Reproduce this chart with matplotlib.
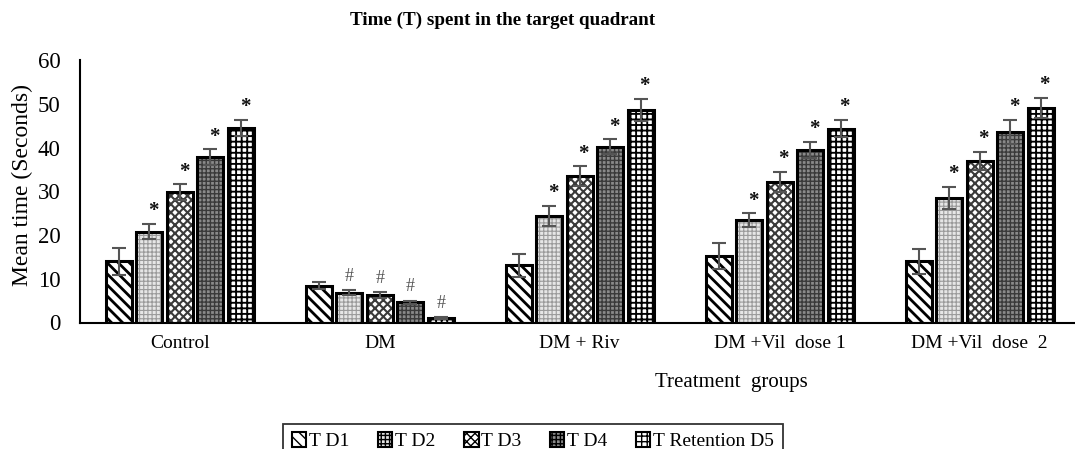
import matplotlib
matplotlib.use("Agg")
import matplotlib.pyplot as plt
import numpy as np
from matplotlib.patches import Patch

plt.rcParams['font.family'] = ['Liberation Serif', 'DejaVu Serif']

groups = ["Control", "DM", "DM + Riv", "DM +Vil  dose 1", "DM +Vil  dose  2"]
series = ["T D1", "T D2", "T D3", "T D4", "T Retention D5"]

d1 = [14.0, 8.4, 13.1, 15.2, 14.0]
d2 = [20.8, 6.8, 24.4, 23.4, 28.5]
d3 = [29.8, 6.3, 33.4, 32.1, 36.9]
d4 = [37.8, 4.6, 40.2, 39.4, 43.5]
d5 = [44.5, 1.1, 48.6, 44.3, 49.1]

e1 = [3.1, 0.8, 2.6, 3.0, 2.9]
e2 = [1.8, 0.6, 2.3, 1.6, 2.5]
e3 = [1.8, 0.6, 2.3, 2.3, 2.1]
e4 = [1.8, 0.4, 1.7, 1.9, 2.8]
e5 = [1.8, 0.2, 2.5, 2.0, 2.3]

marks1 = ["", "", "", "", ""]
marks2 = ["*", "#", "*", "*", "*"]
marks3 = ["*", "#", "*", "*", "*"]
marks4 = ["*", "#", "*", "*", "*"]
marks5 = ["*", "#", "*", "*", "*"]

values = [d1, d2, d3, d4, d5]
errors = [e1, e2, e3, e4, e5]
marks = [marks1, marks2, marks3, marks4, marks5]

# style per series: (facecolor, hatch, hatchcolor, hatch linewidth)
styles = [
    ("white", "\\\\\\", "black", 2.0),
    ("#e6e6e6", "++++", "#9a9a9a", 0.8),
    ("white", "xxxx", "#3a3a3a", 1.5),
    ("#8a8a8a", "++++", "#3a3a3a", 1.0),
    ("white", "+++", "black", 1.35),
]

fig = plt.figure(figsize=(10.75, 4.49), dpi=100)
ax = fig.add_axes([80/1075, 126.5/449, 995/1075, 262.5/449])

x = np.arange(len(groups))
width = 0.13
step = 0.1525

for i in range(5):
    fc, hatch, hc, hlw = styles[i]
    pos = x + (i - 2) * step
    with plt.rc_context({'hatch.linewidth': hlw, 'hatch.color': hc}):
        ax.bar(pos, values[i], width, color=fc, edgecolor=hc, hatch=hatch,
               linewidth=0, zorder=2)
    ax.bar(pos, values[i], width, color="none", edgecolor="black",
           linewidth=2.2, zorder=3)
    ax.errorbar(pos, values[i], yerr=errors[i], fmt="none", ecolor="#555555",
                elinewidth=1.5, capsize=5, capthick=1.5, zorder=4)
    for j in range(5):
        m = marks[i][j]
        if not m:
            continue
        top = values[i][j] + errors[i][j]
        if m == "*":
            ax.text(pos[j] + 0.02, top + 0.6, "*", ha="center", va="bottom",
                    fontsize=15, fontweight="bold", color="#111111", zorder=5)
        else:
            ax.text(pos[j], top + 1.2, "#", ha="center", va="bottom",
                    fontsize=13, color="#555555", zorder=5)

ax.set_xlim(-0.5, 4.4775)
ax.set_ylim(0, 60)
ax.set_yticks([0, 10, 20, 30, 40, 50, 60])
ax.set_xticks(x)
ax.set_xticklabels(groups)
ax.tick_params(axis="y", length=0, pad=14, labelsize=16.5)
ax.tick_params(axis="x", length=0, pad=9, labelsize=14)
for s in ["top", "right"]:
    ax.spines[s].set_visible(False)
ax.spines["left"].set_linewidth(1.5)
ax.spines["bottom"].set_linewidth(1.5)

fig.text(503/1075, 1 - 20/449, "Time (T) spent in the target quadrant",
         ha="center", va="center", fontsize=13.7, fontweight="bold")
fig.text(22/1075, 1 - 185/449, "Mean time (Seconds)", rotation=90,
         ha="center", va="center", fontsize=17)
fig.text(731/1075, 1 - 382/449, "Treatment  groups", ha="center", va="center",
         fontsize=15)

handles = []
for i in range(5):
    fc, hatch, hc, hlw = styles[i]
    with plt.rc_context({'hatch.linewidth': hlw, 'hatch.color': hc}):
        handles.append(Patch(facecolor=fc, edgecolor="black", hatch=hatch,
                             linewidth=1.5))
leg = fig.legend(handles, series, loc="upper center", ncol=5,
                 bbox_to_anchor=(533/1075, 1 - 414/449), fontsize=14,
                 frameon=True, fancybox=False, edgecolor="black",
                 handlelength=0.75, handleheight=0.75, handletextpad=0.15,
                 columnspacing=1.45, borderpad=0.45)
leg.get_frame().set_linewidth(1.3)

fig.savefig("out.png", dpi=100)
